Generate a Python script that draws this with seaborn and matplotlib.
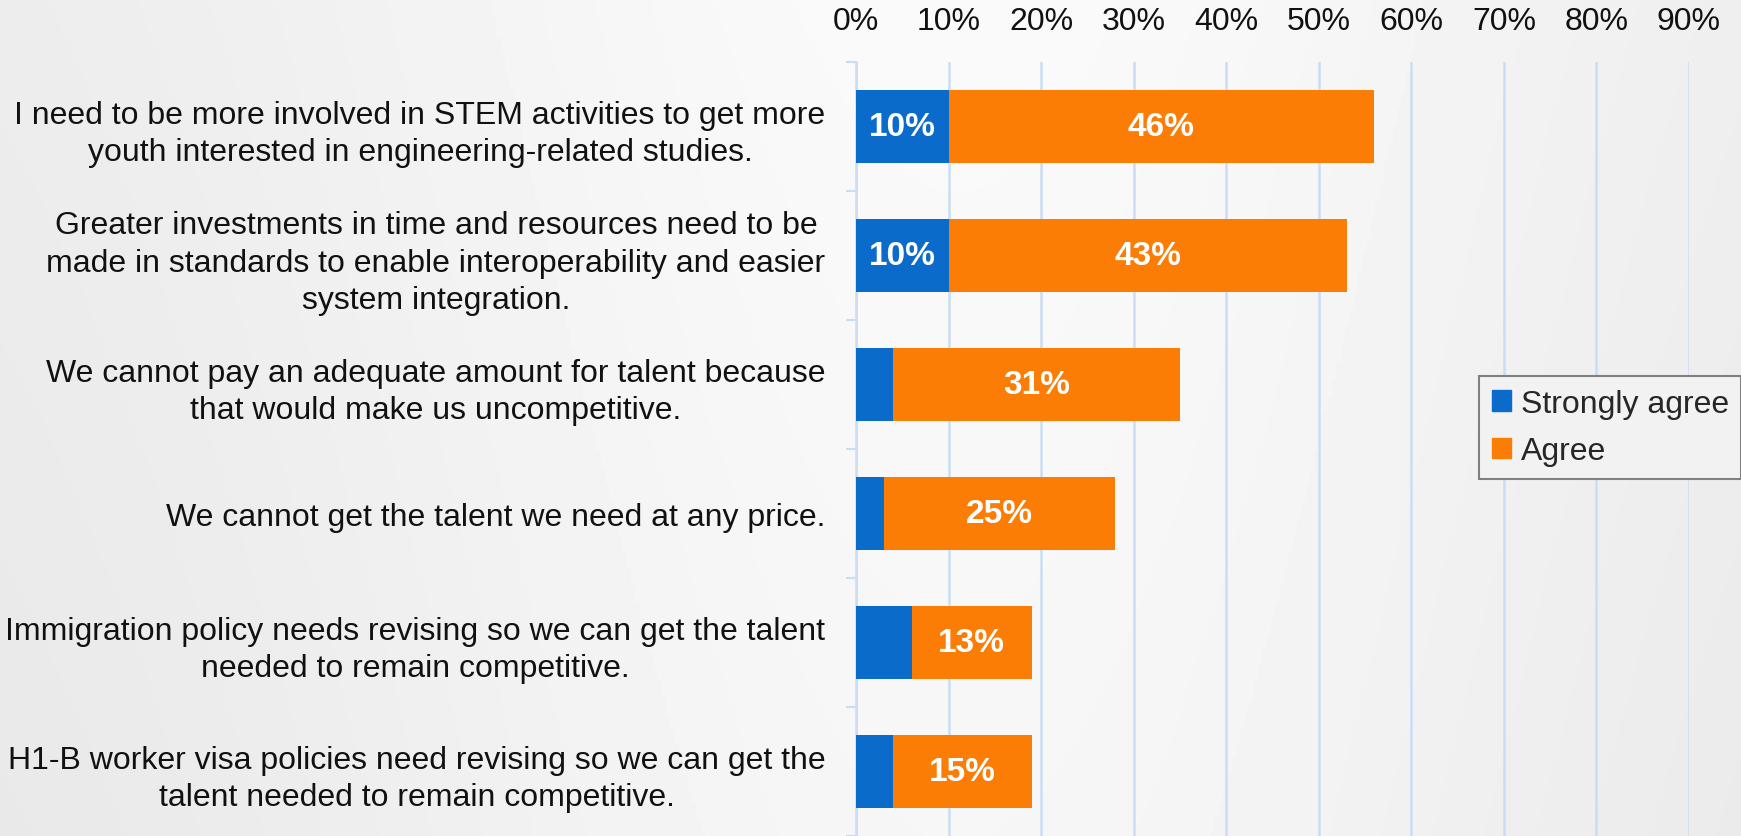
import matplotlib
matplotlib.use('Agg')
import matplotlib.pyplot as plt
import matplotlib.patches as mpatches
import numpy as np
import pandas as pd
import seaborn as sns

statements = [
	'I need to be more involved in STEM activities to get more\nyouth interested in engineering-related studies.',
	'Greater investments in time and resources need to be\nmade in standards to enable interoperability and easier\nsystem integration.',
	'We cannot pay an adequate amount for talent because\nthat would make us uncompetitive.',
	'We cannot get the talent we need at any price.',
	'Immigration policy needs revising so we can get the talent\nneeded to remain competitive.',
	'H1-B worker visa policies need revising so we can get the\ntalent needed to remain competitive.',
]
strongly_agree = [10, 10, 4, 3, 6, 4]
agree = [46, 43, 31, 25, 13, 15]
x_ticks = [0, 10, 20, 30, 40, 50, 60, 70, 80, 90]

BLUE = '#0b6bcb'
ORANGE = '#fb7d06'
GRID = '#c9def5'

def main():
	sns.set_style('white')
	plt.rcParams['font.family'] = ['Liberation Sans', 'DejaVu Sans']

	df = pd.DataFrame({'statement': statements,
			   'strong': strongly_agree,
			   'agree': agree})
	df['total'] = df['strong'] + df['agree']

	fig = plt.figure(figsize=(17.41, 8.37), dpi=100)

	# soft grey background
	bg = fig.add_axes([0, 0, 1, 1], zorder=-10)
	xx = np.linspace(0, 1, 400)
	yy = np.linspace(0, 1, 200)
	X, Y = np.meshgrid(xx, yy)
	shade = 0.92 + 0.06 * np.exp(-((X - 0.55) ** 2) / 0.15) - 0.015 * Y
	bg.imshow(shade, cmap='gray', vmin=0, vmax=1, aspect='auto', extent=[0, 1, 0, 1])
	bg.axis('off')

	ax = fig.add_axes([856 / 1741, 0, (1689 - 856) / 1741, (837 - 63) / 837])
	ax.set_facecolor('none')

	sns.barplot(data=df, x='total', y='statement', color=ORANGE, orient='h',
		    width=0.57, saturation=1, linewidth=0, ax=ax, zorder=3)
	sns.barplot(data=df, x='strong', y='statement', color=BLUE, orient='h',
		    width=0.57, saturation=1, linewidth=0, ax=ax, zorder=4)

	for i, row in df.iterrows():
		if row['strong'] >= 10:
			ax.text(row['strong'] / 2, i, f"{row['strong']}%", ha='center', va='center',
				color='white', fontsize=24, fontweight='bold', zorder=5)
		ax.text(row['strong'] + row['agree'] / 2, i, f"{row['agree']}%", ha='center', va='center',
			color='white', fontsize=24, fontweight='bold', zorder=5)

	ax.set_xlim(0, 90)
	ax.set_ylim(len(statements) - 0.5, -0.5)
	ax.set_xticks(x_ticks)
	ax.set_xticklabels([f'{t}%' for t in x_ticks])
	ax.xaxis.tick_top()
	ax.tick_params(axis='x', length=0, pad=19, labelsize=23, labelcolor='#111111')
	ax.tick_params(axis='y', which='major', left=False, length=0, pad=22, labelsize=23, labelcolor='#111111')
	ax.set_yticks(np.arange(len(statements) + 1) - 0.5, minor=True)
	ax.tick_params(axis='y', which='minor', left=True, length=7, width=1.5, color=GRID)
	for t in ax.get_yticklabels():
		t.set_multialignment('center')
		t.set_linespacing(1.32)
	ax.set_xlabel('')
	ax.set_ylabel('')

	ax.grid(axis='x', color=GRID, linewidth=1.8, zorder=0)
	ax.set_axisbelow(True)
	for side in ['top', 'right', 'bottom']:
		ax.spines[side].set_visible(False)
	ax.spines['left'].set_color(GRID)
	ax.spines['left'].set_linewidth(1.8)

	handles = [mpatches.Patch(color=BLUE, label='Strongly agree'),
		   mpatches.Patch(color=ORANGE, label='Agree')]
	leg = fig.legend(handles=handles, loc='upper left', bbox_to_anchor=(1479 / 1741, 1 - 377 / 837),
			 bbox_transform=fig.transFigure, fontsize=23, frameon=True, fancybox=False,
			 handlelength=0.6, handleheight=0.6, handletextpad=0.3, borderpad=0.4,
			 labelspacing=0.55, borderaxespad=0)
	leg.get_frame().set_edgecolor('#808080')
	leg.get_frame().set_facecolor('#f2f2f2')
	leg.get_frame().set_linewidth(1.5)
	leg.get_frame().set_alpha(1)

	fig.savefig('out.png', dpi=100)

if __name__ == '__main__':
	main()
